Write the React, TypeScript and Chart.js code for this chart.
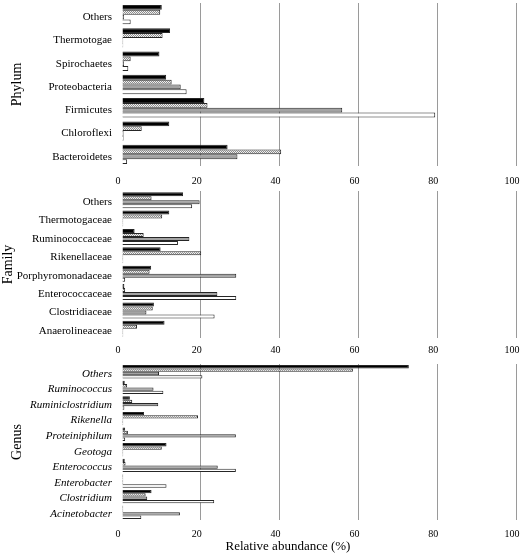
import React, { useEffect, useRef } from "react";
import { Chart, registerables } from "chart.js";

Chart.register(...registerables);

const FONT = "'Liberation Serif', 'Times New Roman', serif";

const xTicks = [0, 20, 40, 60, 80, 100];

const phylumLabels = ["Others", "Thermotogae", "Spirochaetes", "Proteobacteria", "Firmicutes", "Chloroflexi", "Bacteroidetes"];
const phylumBlack = [10.1, 12.2, 9.5, 11.2, 20.9, 12.0, 26.8];
const phylumHatched = [9.7, 10.3, 2.2, 12.6, 21.7, 5.0, 40.4];
const phylumGray = [0.5, 0.3, 0.5, 14.9, 55.9, 0.4, 29.3];
const phylumWhite = [2.2, 0.3, 1.6, 16.4, 79.5, 0.4, 1.3];

const familyLabels = ["Others", "Thermotogaceae", "Ruminococcaceae", "Rikenellaceae", "Porphyromonadaceae", "Enterococcaceae", "Clostridiaceae", "Anaerolineaceae"];
const familyBlack = [15.5, 12.0, 3.2, 9.8, 7.4, 0.6, 8.1, 10.8];
const familyHatched = [7.5, 10.2, 5.5, 20.1, 7.0, 0.8, 7.8, 3.8];
const familyGray = [19.7, 0.3, 17.1, 0.3, 29.0, 24.2, 6.2, 0.3];
const familyWhite = [17.8, 0.3, 14.2, 0.3, 0.8, 29.0, 23.5, 0.3];

const genusLabels = ["Others", "Ruminococcus", "Ruminiclostridium", "Rikenella", "Proteiniphilum", "Geotoga", "Enterococcus", "Enterobacter", "Clostridium", "Acinetobacter"];
const genusBlack = [72.8, 0.7, 2.0, 5.6, 0.8, 11.3, 0.7, 0.3, 7.5, 0.3];
const genusHatched = [58.6, 1.3, 2.6, 19.3, 1.5, 10.1, 0.9, 0.3, 6.0, 0.3];
const genusGray = [9.4, 8.0, 9.2, 0.3, 28.9, 0.3, 24.3, 0.3, 6.4, 14.7];
const genusWhite = [20.4, 10.5, 0.6, 0.3, 0.8, 0.3, 28.9, 11.3, 23.4, 4.9];

function makeHatch(): CanvasPattern | string {
  const c = document.createElement("canvas");
  c.width = 2;
  c.height = 2;
  const g = c.getContext("2d");
  if (!g) return "#cccccc";
  g.fillStyle = "#f0f0f0";
  g.fillRect(0, 0, 2, 2);
  g.fillStyle = "#8a8a8a";
  g.fillRect(0, 0, 1, 1);
  g.fillRect(1, 1, 1, 1);
  const p = g.createPattern(c, "repeat");
  return p || "#cccccc";
}

type PanelProps = {
  title: string;
  titlePad: number;
  labels: string[];
  series: number[][];
  italic: boolean;
  top: number;
  height: number;
  padTop: number;
  xHeight: number;
  tickPad: number;
  catPct: number;
  labelOffset: number;
};

function Panel(props: PanelProps) {
  const ref = useRef<HTMLCanvasElement | null>(null);
  useEffect(() => {
    if (!ref.current) return;
    const hatch = makeHatch();
    const fills = ["#000000", hatch, "#a3a3a3", "#ffffff"];
    const names = ["Series 1", "Series 2", "Series 3", "Series 4"];
    const chart = new Chart(ref.current, {
      type: "bar",
      data: {
        labels: props.labels,
        datasets: props.series.map((d, i) => ({
          label: names[i],
          data: d,
          backgroundColor: fills[i] as any,
          borderColor: "#262626",
          borderWidth: 1,
          categoryPercentage: props.catPct,
          barPercentage: 1.0,
        })),
      },
      options: {
        indexAxis: "y",
        animation: false,
        responsive: false,
        maintainAspectRatio: false,
        layout: { padding: { top: props.padTop, right: 8, left: 0, bottom: 0 } },
        plugins: { legend: { display: false }, tooltip: { enabled: false } },
        scales: {
          x: {
            type: "linear",
            min: 0,
            max: 100,
            afterBuildTicks: (s: any) => {
              s.ticks = xTicks.map((v) => ({ value: v }));
            },
            afterFit: (s: any) => {
              s.height = props.xHeight;
              s.paddingLeft = 0;
              s.paddingRight = 0;
            },
            ticks: {
              padding: props.tickPad,
              maxRotation: 0,
              labelOffset: -4,
              color: "#000",
              font: { family: FONT, size: 10 },
            },
            grid: {
              drawTicks: false,
              color: (ctx: any) => (ctx.tick && ctx.tick.value === 0 ? "rgba(0,0,0,0)" : "#9a9a9a"),
              lineWidth: 1,
            },
            border: { display: false },
          },
          y: {
            type: "category",
            afterFit: (s: any) => {
              s.width = 122;
              s.paddingTop = 0;
              s.paddingBottom = 0;
            },
            ticks: {
              padding: 10,
              autoSkip: false,
              labelOffset: props.labelOffset,
              color: "#000",
              font: { family: FONT, size: 11, style: props.italic ? "italic" : "normal" },
            },
            grid: { display: false, drawTicks: false },
            border: { display: false },
            title: {
              display: true,
              text: props.title,
              color: "#000",
              font: { family: FONT, size: 14 },
              padding: { top: props.titlePad, bottom: 0 },
            },
          },
        },
      },
    });
    return () => chart.destroy();
  }, []);
  return (
    <canvas
      ref={ref}
      width={524}
      height={props.height}
      style={{ position: "absolute", left: 0, top: props.top, width: 524, height: props.height }}
    />
  );
}

export default function App() {
  return (
    <div style={{ position: "absolute", left: 0, top: 0, width: 524, height: 554, background: "#fff", overflow: "hidden" }}>
      <Panel
        title="Phylum"
        titlePad={9}
        labels={phylumLabels}
        series={[phylumBlack, phylumHatched, phylumGray, phylumWhite]}
        italic={false}
        top={0}
        height={190}
        padTop={3}
        xHeight={24}
        tickPad={9}
        catPct={0.83}
        labelOffset={2.5}
      />
      <Panel
        title="Family"
        titlePad={0}
        labels={familyLabels}
        series={[familyBlack, familyHatched, familyGray, familyWhite]}
        italic={false}
        top={188}
        height={170}
        padTop={3}
        xHeight={20}
        tickPad={6}
        catPct={0.87}
        labelOffset={2}
      />
      <Panel
        title="Genus"
        titlePad={9}
        labels={genusLabels}
        series={[genusBlack, genusHatched, genusGray, genusWhite]}
        italic={true}
        top={358}
        height={196}
        padTop={6}
        xHeight={34}
        tickPad={8}
        catPct={0.86}
        labelOffset={2}
      />
      <div
        style={{
          position: "absolute",
          left: 188,
          width: 200,
          top: 538,
          textAlign: "center",
          fontFamily: FONT,
          fontSize: 13,
          lineHeight: "15px",
          color: "#000",
        }}
      >
        Relative abundance (%)
      </div>
    </div>
  );
}
